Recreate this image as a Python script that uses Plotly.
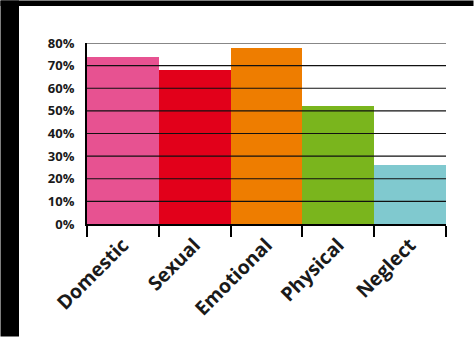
import plotly.graph_objects as go

categories = ["Domestic", "Sexual", "Emotional", "Physical", "Neglect"]
values = [74, 68, 78, 52, 26]
colors = ["#E75291", "#E2001A", "#EE7D00", "#7AB51D", "#80C9CF"]
grid_values = [10, 20, 30, 40, 50, 60, 70, 80]

W, H = 474, 337
ML, MR, MT, MB = 87, 28, 43, 113
pw, ph = W - ML - MR, H - MT - MB

def px(x):
    return (x - ML) / pw

def py(y):
    return (H - MB - y) / ph

fig = go.Figure(go.Bar(x=categories, y=values, marker=dict(color=colors, line=dict(width=0)), width=1))

# black frame on left and top of the page (kept inside the figure bounds)
shapes = [
    dict(type="rect", xref="paper", yref="paper", x0=px(0.5), x1=px(19), y0=py(336.5), y1=py(0.5),
         fillcolor="black", line=dict(width=0), layer="below"),
    dict(type="rect", xref="paper", yref="paper", x0=px(0.5), x1=px(473.5), y0=py(6), y1=py(0.5),
         fillcolor="black", line=dict(width=0), layer="below"),
]
for g in grid_values:
    shapes.append(dict(type="line", xref="paper", yref="y", x0=0, x1=1, y0=g, y1=g,
                       line=dict(color="#111111", width=1.2), layer="above"))

fig.update_layout(
    width=W, height=H,
    margin=dict(l=ML, r=MR, t=MT, b=MB),
    paper_bgcolor="white", plot_bgcolor="white",
    bargap=0, showlegend=False,
    shapes=shapes,
    font=dict(family="Open Sans", color="#1a1a1a"),
)
fig.update_xaxes(type="category", tickson="boundaries", ticks="outside", ticklen=11, tickwidth=2,
                 tickcolor="black", showline=True, linewidth=2, linecolor="black", showgrid=False,
                 tickangle=-45, tickfont=dict(size=19.5, family="Open Sans", weight="bold", color="#1a1a1a"))
fig.update_yaxes(range=[0, 80], dtick=10, ticksuffix="%", showgrid=False, zeroline=False,
                 showline=True, linewidth=2, linecolor="black", ticks="", ticklabelstandoff=8,
                 tickfont=dict(size=13, family="Open Sans", weight="bold", color="#1a1a1a"))

fig.write_html("out.html")
